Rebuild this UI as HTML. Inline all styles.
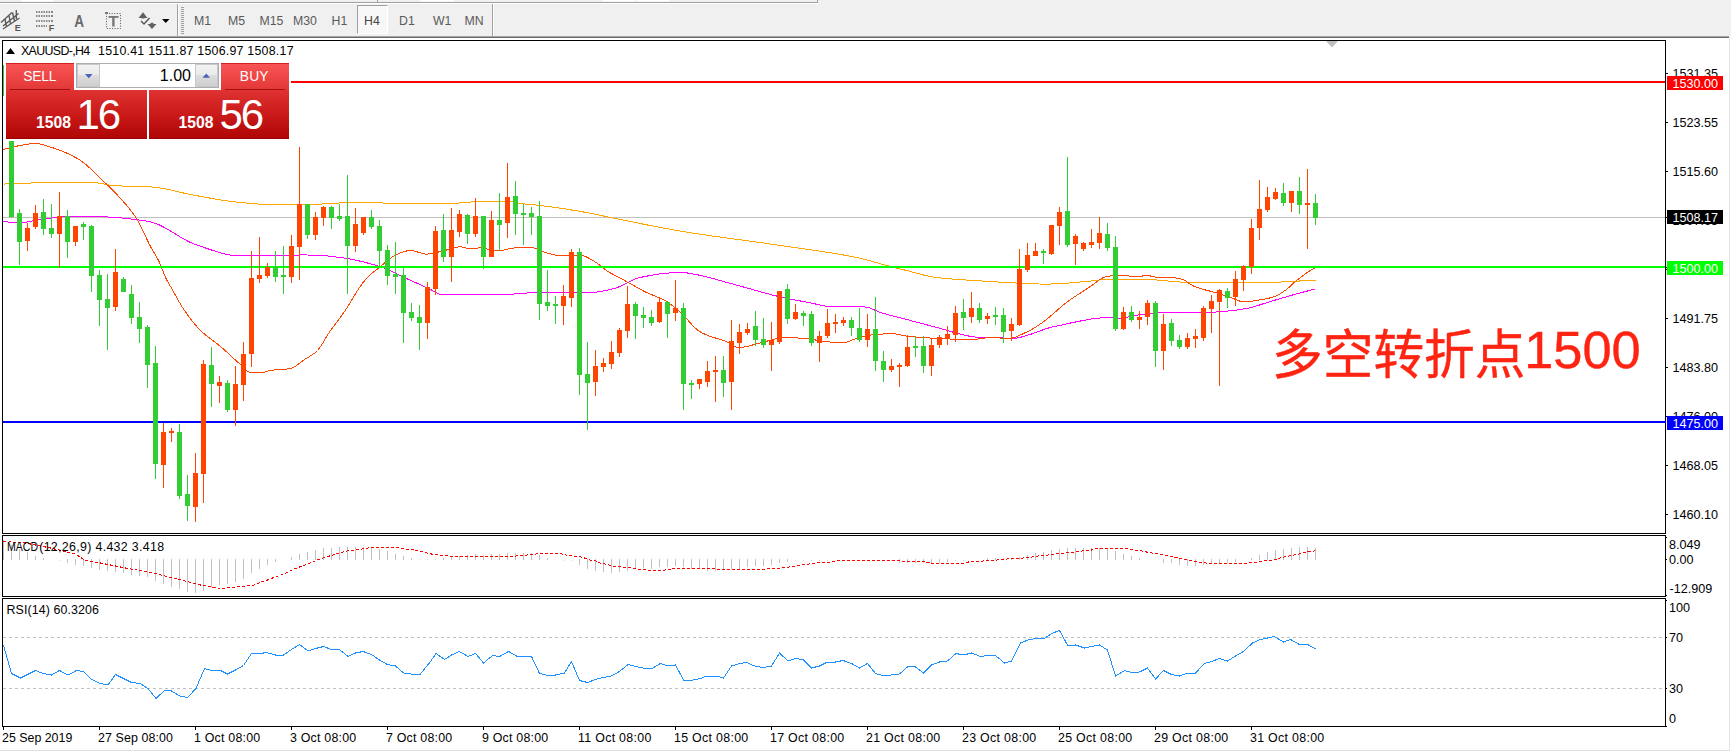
<!DOCTYPE html>
<html><head><meta charset="utf-8"><title>XAUUSD H4</title>
<style>
html,body{margin:0;padding:0;}
body{width:1731px;height:751px;overflow:hidden;background:#f0f0f0;position:relative;font-family:"Liberation Sans","Noto Sans CJK SC",sans-serif;}
.abs{position:absolute;}
.t{position:absolute;font-size:12.4px;line-height:16px;height:16px;white-space:nowrap;color:#000;}
.tag{position:absolute;left:1667px;width:56px;height:14px;font-size:12.6px;line-height:16px;overflow:hidden;text-indent:5.5px;white-space:nowrap;}
.tf{position:absolute;top:13px;font-size:12.3px;line-height:16px;color:#5a5a5a;white-space:nowrap;}
#paper{position:absolute;left:0;top:38px;width:1731px;height:713px;background:#fff;}
svg{position:absolute;left:0;top:0;}
.big{position:absolute;color:#fff;white-space:nowrap;}
</style></head><body>
<!-- top strip -->
<div class="abs" style="left:0;top:2px;width:818px;height:1px;background:#a0a0a0"></div>
<div class="abs" style="left:0;top:3px;width:818px;height:1px;background:#fff"></div>
<div class="abs" style="left:817px;top:0;width:1px;height:3px;background:#a0a0a0"></div>
<div class="abs" style="left:21px;top:0;width:32px;height:2px;background:linear-gradient(#fff 0,#fff 1px,#f6f6f6 1px,#f6f6f6 2px)"></div>
<div class="abs" style="left:420px;top:0;width:34px;height:2px;background:linear-gradient(#fff 0,#fff 1px,#f6f6f6 1px,#f6f6f6 2px)"></div>
<div class="abs" style="left:377px;top:0;width:1px;height:2px;background:#a0a0a0"></div>
<div class="abs" style="left:603px;top:0;width:32px;height:2px;background:linear-gradient(#fff 0,#fff 1px,#f6f6f6 1px,#f6f6f6 2px)"></div>
<div class="abs" style="left:637px;top:0;width:32px;height:2px;background:linear-gradient(#fff 0,#fff 1px,#f6f6f6 1px,#f6f6f6 2px)"></div>
<!-- toolbar bottom shadow -->
<div class="abs" style="left:0;top:36px;width:1729px;height:1px;background:#a6a6a6"></div>
<div class="abs" style="left:0;top:37px;width:1729px;height:1px;background:#696969"></div>
<div id="paper"></div>
<div class="abs" style="left:1729px;top:38px;width:1px;height:713px;background:#e3e3e3"></div>
<div class="abs" style="left:0;top:750px;width:1730px;height:1px;background:#e0e0e0"></div>
<!-- toolbar separators -->
<div class="abs" style="left:177px;top:4px;width:1px;height:32px;background:#a0a0a0"></div>
<div class="abs" style="left:178px;top:4px;width:1px;height:32px;background:#fff"></div>
<div class="abs" style="left:181px;top:7px;width:3px;height:28px;background:repeating-linear-gradient(to bottom,#a0a0a0 0,#a0a0a0 1px,transparent 1px,transparent 2px)"></div>
<div class="abs" style="left:492px;top:4px;width:1px;height:32px;background:#a0a0a0"></div>
<div class="abs" style="left:493px;top:4px;width:1px;height:32px;background:#fff"></div>
<!-- H4 pressed -->
<div class="abs" style="left:357px;top:5px;width:31px;height:29px;background:#f8f8f8;box-sizing:border-box;border-left:1px solid #a0a0a0;border-top:1px solid #a0a0a0;border-right:1px solid #fff;border-bottom:1px solid #fff"></div>
<div class="tf" style="left:194px">M1</div>
<div class="tf" style="left:228px">M5</div>
<div class="tf" style="left:259.5px">M15</div>
<div class="tf" style="left:293px">M30</div>
<div class="tf" style="left:331.5px">H1</div>
<div class="tf" style="left:364px;color:#444">H4</div>
<div class="tf" style="left:399px">D1</div>
<div class="tf" style="left:433px">W1</div>
<div class="tf" style="left:464.5px">MN</div>
<!-- toolbar icons -->
<svg width="200" height="40" viewBox="0 0 200 40">
 <g stroke="#5a5a5a" stroke-width="1.4" fill="none">
  <path d="M1 22.5 L12 12.5 M3 26 L18.5 13.5 M3 29 L19.5 18 M5 19 L6.5 27 M9 15.5 L10.5 24 M12.5 12.5 L14.5 21 M16.3 10 L16.3 19"/>
 </g>
 <text x="14.7" y="31.3" font-family="Liberation Sans, sans-serif" font-weight="bold" font-size="9" fill="#555">E</text>
 <g fill="#888">
  <rect x="36" y="11" width="17" height="2"/><rect x="36" y="15" width="17" height="2"/><rect x="36" y="20" width="17" height="2"/><rect x="36" y="25" width="11" height="2"/>
 </g>
 <g fill="#f0f0f0">
  <rect x="37.5" y="10" width="1" height="18"/><rect x="40" y="10" width="1" height="18"/><rect x="42.5" y="10" width="1" height="18"/><rect x="45" y="10" width="1" height="18"/><rect x="47.5" y="10" width="1" height="18"/><rect x="50" y="10" width="1" height="18"/>
 </g>
 <text x="48.7" y="31.3" font-family="Liberation Sans, sans-serif" font-weight="bold" font-size="9" fill="#555">F</text>
 <text x="74.2" y="26.7" font-family="Liberation Sans, sans-serif" font-weight="bold" font-size="16" fill="#6a6a6a" textLength="9.8" lengthAdjust="spacingAndGlyphs">A</text>
 <rect x="106.5" y="13.5" width="14" height="15" fill="none" stroke="#555" stroke-width="1" stroke-dasharray="1 1.6"/>
 <rect x="105" y="12" width="3" height="2" fill="#777"/>
 <rect x="108.5" y="16" width="10" height="1.8" fill="#777"/><rect x="112.2" y="16" width="2.4" height="10.5" fill="#777"/>
 <polygon points="138.5,18 143,12.3 147.5,18" fill="#606060"/><rect x="141.5" y="17" width="3" height="1.5" fill="#606060"/>
 <path d="M141 21 L144 24 L149.5 18" stroke="#555" stroke-width="1.4" fill="none"/>
 <polygon points="147.5,24 156.5,24 152,29" fill="#606060"/><rect x="150.5" y="22.8" width="3" height="1.5" fill="#606060"/>
 <polygon points="162,19 169.5,19 165.75,23" fill="#000"/>
</svg>
<!-- chart -->
<svg width="1731" height="751" viewBox="0 0 1731 751" shape-rendering="crispEdges">
<rect x="2" y="40" width="1664" height="1" fill="#000"/>
<rect x="2" y="533" width="1664" height="1" fill="#000"/>
<rect x="2" y="40" width="1" height="494" fill="#000"/>
<rect x="1665" y="40" width="1" height="494" fill="#000"/>
<rect x="2" y="535" width="1664" height="1" fill="#000"/>
<rect x="2" y="596" width="1664" height="1" fill="#000"/>
<rect x="2" y="535" width="1" height="62" fill="#000"/>
<rect x="1665" y="535" width="1" height="62" fill="#000"/>
<rect x="2" y="598" width="1664" height="1" fill="#000"/>
<rect x="2" y="726" width="1664" height="1" fill="#000"/>
<rect x="2" y="598" width="1" height="129" fill="#000"/>
<rect x="1665" y="598" width="1" height="129" fill="#000"/>
<rect x="3" y="217" width="1662" height="1" fill="#c0c0c0"/>
<polyline points="3.5,184.1 7.5,183.9 11.5,183.7 15.5,183.6 19.5,183.4 23.5,183.2 27.5,183.1 31.5,183.0 35.5,182.9 39.5,182.9 43.5,182.9 47.5,182.9 51.5,182.9 55.5,182.9 59.5,182.9 63.5,182.9 67.5,182.9 71.5,182.9 75.5,182.9 79.5,182.9 83.5,182.9 87.5,182.9 91.5,182.9 95.5,182.9 99.5,183.1 103.5,183.8 107.5,184.7 111.5,185.4 115.5,185.7 119.5,185.9 123.5,186.1 127.5,186.2 131.5,186.3 135.5,186.4 139.5,186.5 143.5,186.6 147.5,186.8 151.5,187.0 155.5,187.4 159.5,187.9 163.5,188.5 167.5,189.3 171.5,190.2 175.5,191.2 179.5,192.1 183.5,193.0 187.5,193.9 191.5,194.7 195.5,195.4 199.5,196.2 203.5,196.9 207.5,197.6 211.5,198.4 215.5,199.1 219.5,199.7 223.5,200.4 227.5,201.0 231.5,201.5 235.5,202.0 239.5,202.4 243.5,202.8 247.5,203.1 251.5,203.4 255.5,203.8 259.5,204.1 263.5,204.3 267.5,204.5 271.5,204.7 275.5,204.8 279.5,204.9 283.5,204.9 287.5,204.9 291.5,204.9 295.5,204.9 299.5,204.9 303.5,204.9 307.5,204.8 311.5,204.6 315.5,204.4 319.5,204.2 323.5,203.9 327.5,203.6 331.5,203.4 335.5,203.2 339.5,203.0 343.5,202.9 347.5,202.9 351.5,202.9 355.5,202.9 359.5,202.9 363.5,202.9 367.5,202.9 371.5,202.9 375.5,202.9 379.5,202.9 383.5,203.0 387.5,203.0 391.5,203.0 395.5,203.0 399.5,203.0 403.5,203.0 407.5,203.1 411.5,203.1 415.5,203.1 419.5,203.1 423.5,203.2 427.5,203.2 431.5,203.3 435.5,203.4 439.5,203.4 443.5,203.5 447.5,203.5 451.5,203.5 455.5,203.3 459.5,203.0 463.5,202.7 467.5,202.3 471.5,202.0 475.5,201.7 479.5,201.5 483.5,201.4 487.5,201.3 491.5,201.3 495.5,201.2 499.5,201.1 503.5,201.1 507.5,201.1 511.5,201.7 515.5,202.5 519.5,203.4 523.5,203.9 527.5,204.3 531.5,204.6 535.5,205.0 539.5,205.4 543.5,205.9 547.5,206.4 551.5,206.9 555.5,207.5 559.5,208.1 563.5,208.7 567.5,209.3 571.5,210.0 575.5,210.7 579.5,211.3 583.5,212.0 587.5,212.8 591.5,213.5 595.5,214.3 599.5,215.2 603.5,216.0 607.5,216.8 611.5,217.7 615.5,218.5 619.5,219.3 623.5,220.1 627.5,220.9 631.5,221.7 635.5,222.5 639.5,223.4 643.5,224.2 647.5,225.0 651.5,225.8 655.5,226.5 659.5,227.3 663.5,228.1 667.5,228.8 671.5,229.5 675.5,230.2 679.5,230.9 683.5,231.6 687.5,232.3 691.5,232.9 695.5,233.5 699.5,234.1 703.5,234.7 707.5,235.3 711.5,235.9 715.5,236.4 719.5,237.0 723.5,237.6 727.5,238.1 731.5,238.7 735.5,239.2 739.5,239.7 743.5,240.3 747.5,240.8 751.5,241.4 755.5,241.9 759.5,242.5 763.5,243.0 767.5,243.6 771.5,244.2 775.5,244.8 779.5,245.4 783.5,245.9 787.5,246.5 791.5,247.1 795.5,247.7 799.5,248.3 803.5,248.8 807.5,249.4 811.5,250.0 815.5,250.5 819.5,251.1 823.5,251.7 827.5,252.4 831.5,253.0 835.5,253.6 839.5,254.3 843.5,255.0 847.5,255.7 851.5,256.5 855.5,257.3 859.5,258.1 863.5,259.1 867.5,260.1 871.5,261.2 875.5,262.3 879.5,263.5 883.5,264.6 887.5,265.7 891.5,266.8 895.5,267.8 899.5,268.8 903.5,269.8 907.5,270.7 911.5,271.8 915.5,272.9 919.5,273.9 923.5,275.0 927.5,275.9 931.5,276.7 935.5,277.4 939.5,277.8 943.5,278.3 947.5,278.6 951.5,279.0 955.5,279.3 959.5,279.6 963.5,279.8 967.5,280.1 971.5,280.3 975.5,280.6 979.5,280.8 983.5,281.1 987.5,281.4 991.5,281.6 995.5,281.9 999.5,282.1 1003.5,282.4 1007.5,282.6 1011.5,282.8 1015.5,283.0 1019.5,283.2 1023.5,283.4 1027.5,283.5 1031.5,283.7 1035.5,283.9 1039.5,284.0 1043.5,284.1 1047.5,284.1 1051.5,284.0 1055.5,283.9 1059.5,283.7 1063.5,283.4 1067.5,283.1 1071.5,282.8 1075.5,282.4 1079.5,282.1 1083.5,281.7 1087.5,281.4 1091.5,281.0 1095.5,280.5 1099.5,280.0 1103.5,279.6 1107.5,279.5 1111.5,279.4 1115.5,279.3 1119.5,279.2 1123.5,279.2 1127.5,279.2 1131.5,279.1 1135.5,279.1 1139.5,279.1 1143.5,279.2 1147.5,279.4 1151.5,279.6 1155.5,279.9 1159.5,280.2 1163.5,280.6 1167.5,281.0 1171.5,281.4 1175.5,281.7 1179.5,282.0 1183.5,282.3 1187.5,282.4 1191.5,282.5 1195.5,282.6 1199.5,282.6 1203.5,282.7 1207.5,282.7 1211.5,282.8 1215.5,282.8 1219.5,282.8 1223.5,282.9 1227.5,282.9 1231.5,282.9 1235.5,282.9 1239.5,282.9 1243.5,282.9 1247.5,282.9 1251.5,282.9 1255.5,282.9 1259.5,282.9 1263.5,282.9 1267.5,282.9 1271.5,282.9 1275.5,282.6 1279.5,282.2 1283.5,281.7 1287.5,281.2 1291.5,281.1 1295.5,281.0 1299.5,281.0 1303.5,280.9 1307.5,280.9 1311.5,280.9 1315.5,280.9" fill="none" stroke="#ffa500" stroke-width="1" />
<polyline points="3.5,221.5 7.5,222.0 11.5,222.3 15.5,222.5 19.5,222.5 23.5,222.4 27.5,221.9 31.5,221.1 35.5,220.3 39.5,219.6 43.5,219.1 47.5,218.5 51.5,218.0 55.5,217.4 59.5,216.9 63.5,216.5 67.5,216.2 71.5,216.1 75.5,216.1 79.5,216.1 83.5,216.2 87.5,216.3 91.5,216.4 95.5,216.5 99.5,216.6 103.5,216.8 107.5,217.0 111.5,217.2 115.5,217.5 119.5,217.8 123.5,218.2 127.5,218.6 131.5,219.1 135.5,219.6 139.5,220.1 143.5,220.7 147.5,221.3 151.5,222.1 155.5,223.4 159.5,225.0 163.5,227.0 167.5,229.2 171.5,231.6 175.5,234.0 179.5,236.5 183.5,238.8 187.5,241.0 191.5,242.9 195.5,244.6 199.5,245.9 203.5,247.3 207.5,248.7 211.5,250.0 215.5,251.3 219.5,252.5 223.5,253.6 227.5,254.5 231.5,255.2 235.5,255.7 239.5,255.9 243.5,255.9 247.5,255.9 251.5,255.9 255.5,255.9 259.5,255.9 263.5,255.9 267.5,255.9 271.5,255.9 275.5,255.9 279.5,255.9 283.5,255.9 287.5,255.9 291.5,255.9 295.5,255.4 299.5,254.9 303.5,254.9 307.5,255.0 311.5,255.1 315.5,255.3 319.5,255.5 323.5,255.7 327.5,256.0 331.5,256.4 335.5,256.9 339.5,257.4 343.5,257.9 347.5,258.6 351.5,259.3 355.5,260.1 359.5,261.0 363.5,261.9 367.5,263.0 371.5,264.1 375.5,265.2 379.5,266.4 383.5,267.8 387.5,269.5 391.5,271.3 395.5,273.2 399.5,275.2 403.5,277.1 407.5,279.0 411.5,280.8 415.5,282.6 419.5,284.4 423.5,286.3 427.5,288.1 431.5,290.0 435.5,292.3 439.5,294.1 443.5,294.9 447.5,294.9 451.5,294.9 455.5,294.9 459.5,294.9 463.5,294.9 467.5,294.9 471.5,294.9 475.5,294.9 479.5,294.9 483.5,294.9 487.5,294.9 491.5,294.9 495.5,294.9 499.5,294.9 503.5,294.8 507.5,294.6 511.5,294.3 515.5,293.9 519.5,293.5 523.5,293.2 527.5,293.0 531.5,292.9 535.5,292.9 539.5,292.9 543.5,292.9 547.5,292.9 551.5,292.9 555.5,292.9 559.5,292.9 563.5,292.9 567.5,292.9 571.5,292.8 575.5,292.8 579.5,292.7 583.5,292.7 587.5,292.6 591.5,292.5 595.5,292.2 599.5,291.7 603.5,291.0 607.5,290.2 611.5,289.2 615.5,288.2 619.5,286.6 623.5,284.6 627.5,282.6 631.5,280.6 635.5,278.8 639.5,277.7 643.5,276.8 647.5,276.0 651.5,275.2 655.5,274.6 659.5,274.0 663.5,273.6 667.5,273.2 671.5,272.8 675.5,272.5 679.5,272.3 683.5,272.5 687.5,273.0 691.5,273.7 695.5,274.4 699.5,275.2 703.5,276.1 707.5,277.1 711.5,278.1 715.5,279.2 719.5,280.3 723.5,281.5 727.5,282.6 731.5,283.7 735.5,284.8 739.5,285.8 743.5,287.0 747.5,288.1 751.5,289.2 755.5,290.4 759.5,291.5 763.5,292.7 767.5,293.7 771.5,294.8 775.5,295.8 779.5,296.7 783.5,297.6 787.5,298.5 791.5,299.3 795.5,300.1 799.5,300.8 803.5,301.6 807.5,302.3 811.5,303.1 815.5,304.0 819.5,304.9 823.5,305.7 827.5,306.4 831.5,306.8 835.5,306.9 839.5,306.9 843.5,306.9 847.5,306.9 851.5,306.9 855.5,306.9 859.5,306.9 863.5,306.9 867.5,307.3 871.5,308.6 875.5,310.5 879.5,312.2 883.5,313.4 887.5,314.5 891.5,315.6 895.5,316.7 899.5,317.7 903.5,318.7 907.5,319.7 911.5,320.8 915.5,321.8 919.5,322.9 923.5,323.9 927.5,325.0 931.5,326.1 935.5,327.1 939.5,328.2 943.5,329.3 947.5,330.5 951.5,331.7 955.5,332.9 959.5,333.9 963.5,334.8 967.5,335.8 971.5,336.6 975.5,337.1 979.5,337.1 983.5,337.1 987.5,337.1 991.5,337.1 995.5,337.2 999.5,337.6 1003.5,338.0 1007.5,338.4 1011.5,338.5 1015.5,338.2 1019.5,337.5 1023.5,336.5 1027.5,335.3 1031.5,334.0 1035.5,332.5 1039.5,331.1 1043.5,329.6 1047.5,328.3 1051.5,327.2 1055.5,326.3 1059.5,325.5 1063.5,324.6 1067.5,323.7 1071.5,322.8 1075.5,322.0 1079.5,321.2 1083.5,320.4 1087.5,319.7 1091.5,319.0 1095.5,318.5 1099.5,318.1 1103.5,317.7 1107.5,317.5 1111.5,317.6 1115.5,319.0 1119.5,318.9 1123.5,318.1 1127.5,317.1 1131.5,316.1 1135.5,315.4 1139.5,314.8 1143.5,314.3 1147.5,313.8 1151.5,313.3 1155.5,313.0 1159.5,312.9 1163.5,312.9 1167.5,312.9 1171.5,312.9 1175.5,312.9 1179.5,312.9 1183.5,312.9 1187.5,312.9 1191.5,312.9 1195.5,312.9 1199.5,312.9 1203.5,312.8 1207.5,312.6 1211.5,312.4 1215.5,312.1 1219.5,311.7 1223.5,311.4 1227.5,311.1 1231.5,310.6 1235.5,310.2 1239.5,309.6 1243.5,309.0 1247.5,308.3 1251.5,307.4 1255.5,306.3 1259.5,305.0 1263.5,303.7 1267.5,302.4 1271.5,301.2 1275.5,300.0 1279.5,298.8 1283.5,297.7 1287.5,296.5 1291.5,295.3 1295.5,294.2 1299.5,293.1 1303.5,292.0 1307.5,291.0 1311.5,289.9 1315.5,288.9" fill="none" stroke="#ff00ff" stroke-width="1" />
<polyline points="3.5,149.5 5.5,148.9 7.5,148.4 9.5,147.8 11.5,147.3 13.5,146.9 15.5,146.4 17.5,146.0 19.5,145.7 21.5,145.3 23.5,145.0 25.5,144.7 27.5,144.3 29.5,144.0 31.5,143.8 33.5,143.6 35.5,143.5 37.5,143.5 39.5,143.8 41.5,144.3 43.5,144.9 45.5,145.5 47.5,146.2 49.5,146.8 51.5,147.4 53.5,148.0 55.5,148.7 57.5,149.4 59.5,150.1 61.5,150.9 63.5,151.7 65.5,152.6 67.5,153.5 69.5,154.4 71.5,155.4 73.5,156.4 75.5,157.5 77.5,158.6 79.5,159.9 81.5,161.2 83.5,162.6 85.5,164.2 87.5,166.0 89.5,167.8 91.5,169.7 93.5,171.7 95.5,173.6 97.5,175.6 99.5,177.5 101.5,179.4 103.5,181.3 105.5,183.2 107.5,185.2 109.5,187.1 111.5,189.1 113.5,191.1 115.5,193.1 117.5,195.2 119.5,197.4 121.5,199.6 123.5,201.8 125.5,204.1 127.5,206.4 129.5,208.9 131.5,211.4 133.5,214.1 135.5,217.0 137.5,220.1 139.5,223.7 141.5,227.7 143.5,232.0 145.5,236.3 147.5,240.5 149.5,244.6 151.5,248.3 153.5,251.7 155.5,255.0 157.5,258.6 159.5,262.6 161.5,267.5 163.5,272.6 165.5,277.4 167.5,281.4 169.5,284.8 171.5,288.2 173.5,291.8 175.5,295.4 177.5,299.0 179.5,302.5 181.5,305.9 183.5,309.0 185.5,311.9 187.5,314.8 189.5,317.5 191.5,320.2 193.5,322.7 195.5,325.1 197.5,327.4 199.5,329.5 201.5,331.5 203.5,333.3 205.5,335.0 207.5,336.6 209.5,338.1 211.5,339.6 213.5,341.1 215.5,342.5 217.5,344.1 219.5,345.7 221.5,347.4 223.5,349.1 225.5,350.9 227.5,352.7 229.5,354.6 231.5,356.4 233.5,358.3 235.5,360.1 237.5,361.9 239.5,363.7 241.5,365.4 243.5,367.4 245.5,369.5 247.5,371.2 249.5,372.3 251.5,372.6 253.5,372.7 255.5,372.8 257.5,372.9 259.5,372.9 261.5,372.8 263.5,372.5 265.5,371.9 267.5,371.2 269.5,370.7 271.5,370.4 273.5,370.1 275.5,369.9 277.5,369.8 279.5,369.6 281.5,369.5 283.5,369.4 285.5,369.2 287.5,369.0 289.5,368.7 291.5,368.3 293.5,367.4 295.5,366.3 297.5,364.8 299.5,363.3 301.5,361.7 303.5,360.2 305.5,358.9 307.5,357.7 309.5,356.5 311.5,355.3 313.5,353.9 315.5,352.4 317.5,350.5 319.5,348.0 321.5,345.1 323.5,341.9 325.5,338.5 327.5,335.1 329.5,332.0 331.5,329.1 333.5,326.4 335.5,323.8 337.5,321.1 339.5,318.5 341.5,315.7 343.5,312.9 345.5,310.0 347.5,306.9 349.5,303.7 351.5,300.3 353.5,296.9 355.5,293.6 357.5,290.5 359.5,287.6 361.5,284.7 363.5,282.0 365.5,279.6 367.5,277.5 369.5,275.5 371.5,273.7 373.5,272.0 375.5,270.4 377.5,268.9 379.5,267.3 381.5,265.7 383.5,264.0 385.5,262.3 387.5,260.6 389.5,258.9 391.5,257.4 393.5,256.1 395.5,254.9 397.5,254.1 399.5,253.3 401.5,252.5 403.5,251.8 405.5,251.2 407.5,250.8 409.5,250.5 411.5,250.5 413.5,250.8 415.5,251.3 417.5,252.0 419.5,252.6 421.5,253.3 423.5,253.8 425.5,254.1 427.5,254.1 429.5,253.9 431.5,253.6 433.5,253.2 435.5,252.8 437.5,252.3 439.5,251.7 441.5,251.2 443.5,250.7 445.5,250.3 447.5,249.7 449.5,249.2 451.5,248.6 453.5,248.0 455.5,247.5 457.5,247.1 459.5,246.9 461.5,247.0 463.5,247.3 465.5,247.9 467.5,248.5 469.5,248.8 471.5,248.9 473.5,248.7 475.5,248.4 477.5,248.1 479.5,247.9 481.5,247.9 483.5,248.2 485.5,248.6 487.5,249.1 489.5,249.7 491.5,250.2 493.5,250.6 495.5,250.9 497.5,250.9 499.5,250.7 501.5,250.4 503.5,250.1 505.5,249.6 507.5,249.2 509.5,248.7 511.5,248.4 513.5,248.1 515.5,247.9 517.5,247.9 519.5,247.9 521.5,247.9 523.5,247.9 525.5,247.9 527.5,247.9 529.5,247.9 531.5,247.9 533.5,247.9 535.5,248.3 537.5,249.0 539.5,249.8 541.5,250.7 543.5,251.7 545.5,252.5 547.5,253.2 549.5,253.7 551.5,254.2 553.5,254.7 555.5,255.1 557.5,255.5 559.5,255.7 561.5,255.9 563.5,255.9 565.5,255.9 567.5,255.8 569.5,255.8 571.5,255.7 573.5,255.6 575.5,255.6 577.5,255.5 579.5,255.5 581.5,255.6 583.5,255.9 585.5,256.6 587.5,257.5 589.5,258.6 591.5,259.8 593.5,260.9 595.5,262.1 597.5,263.5 599.5,265.0 601.5,266.7 603.5,268.3 605.5,269.8 607.5,271.1 609.5,272.4 611.5,273.5 613.5,274.6 615.5,275.7 617.5,276.7 619.5,277.8 621.5,278.8 623.5,279.9 625.5,281.0 627.5,282.1 629.5,283.2 631.5,284.3 633.5,285.5 635.5,286.6 637.5,287.7 639.5,288.9 641.5,289.9 643.5,291.0 645.5,292.0 647.5,292.9 649.5,293.8 651.5,294.6 653.5,295.4 655.5,296.3 657.5,297.1 659.5,298.0 661.5,298.9 663.5,299.9 665.5,300.9 667.5,302.1 669.5,303.4 671.5,304.9 673.5,306.5 675.5,308.2 677.5,309.9 679.5,311.6 681.5,313.4 683.5,315.4 685.5,317.5 687.5,319.7 689.5,322.0 691.5,324.2 693.5,326.3 695.5,328.3 697.5,330.0 699.5,331.5 701.5,332.6 703.5,333.6 705.5,334.5 707.5,335.3 709.5,336.1 711.5,336.7 713.5,337.4 715.5,338.0 717.5,338.6 719.5,339.2 721.5,339.9 723.5,340.6 725.5,341.3 727.5,342.1 729.5,343.0 731.5,344.2 733.5,345.5 735.5,346.7 737.5,347.4 739.5,347.5 741.5,347.3 743.5,347.1 745.5,346.7 747.5,346.3 749.5,345.8 751.5,345.3 753.5,344.7 755.5,344.2 757.5,343.6 759.5,343.1 761.5,342.7 763.5,342.2 765.5,341.6 767.5,341.0 769.5,340.4 771.5,339.8 773.5,339.3 775.5,338.8 777.5,338.3 779.5,337.9 781.5,337.7 783.5,337.5 785.5,337.5 787.5,337.5 789.5,337.6 791.5,337.7 793.5,337.8 795.5,337.9 797.5,338.0 799.5,338.1 801.5,338.3 803.5,338.5 805.5,338.6 807.5,338.8 809.5,339.0 811.5,339.3 813.5,339.6 815.5,340.0 817.5,340.4 819.5,340.7 821.5,341.1 823.5,341.4 825.5,341.6 827.5,341.8 829.5,342.0 831.5,342.2 833.5,342.4 835.5,342.6 837.5,342.7 839.5,342.8 841.5,342.9 843.5,342.9 845.5,342.5 847.5,341.9 849.5,341.2 851.5,340.3 853.5,339.5 855.5,338.8 857.5,338.2 859.5,337.7 861.5,337.1 863.5,336.6 865.5,336.1 867.5,335.7 869.5,335.3 871.5,335.0 873.5,334.8 875.5,334.6 877.5,334.4 879.5,334.3 881.5,334.1 883.5,334.0 885.5,333.9 887.5,333.8 889.5,333.7 891.5,333.7 893.5,333.7 895.5,333.9 897.5,334.3 899.5,334.7 901.5,335.2 903.5,335.6 905.5,336.0 907.5,336.2 909.5,336.4 911.5,336.6 913.5,336.8 915.5,337.0 917.5,337.2 919.5,337.3 921.5,337.5 923.5,337.6 925.5,337.8 927.5,337.9 929.5,338.0 931.5,338.2 933.5,338.3 935.5,338.4 937.5,338.5 939.5,338.6 941.5,338.7 943.5,338.8 945.5,338.9 947.5,338.9 949.5,339.0 951.5,339.1 953.5,339.1 955.5,339.2 957.5,339.3 959.5,339.3 961.5,339.4 963.5,339.4 965.5,339.4 967.5,339.5 969.5,339.5 971.5,339.5 973.5,339.5 975.5,339.4 977.5,339.1 979.5,338.8 981.5,338.5 983.5,338.2 985.5,337.9 987.5,337.6 989.5,337.5 991.5,337.5 993.5,337.6 995.5,337.7 997.5,337.8 999.5,338.0 1001.5,338.2 1003.5,338.3 1005.5,338.4 1007.5,338.5 1009.5,338.5 1011.5,338.2 1013.5,337.7 1015.5,337.1 1017.5,336.3 1019.5,335.4 1021.5,334.5 1023.5,333.5 1025.5,332.6 1027.5,331.6 1029.5,330.6 1031.5,329.6 1033.5,328.4 1035.5,327.2 1037.5,325.9 1039.5,324.5 1041.5,323.2 1043.5,321.8 1045.5,320.3 1047.5,318.7 1049.5,317.0 1051.5,315.3 1053.5,313.5 1055.5,311.8 1057.5,310.0 1059.5,308.2 1061.5,306.5 1063.5,304.8 1065.5,303.3 1067.5,301.8 1069.5,300.3 1071.5,298.9 1073.5,297.5 1075.5,296.2 1077.5,294.9 1079.5,293.6 1081.5,292.3 1083.5,291.0 1085.5,289.7 1087.5,288.4 1089.5,287.1 1091.5,285.8 1093.5,284.4 1095.5,282.8 1097.5,281.3 1099.5,279.8 1101.5,278.5 1103.5,277.4 1105.5,276.7 1107.5,276.4 1109.5,276.1 1111.5,275.9 1113.5,275.7 1115.5,275.6 1117.5,275.5 1119.5,275.5 1121.5,275.6 1123.5,275.7 1125.5,275.8 1127.5,275.9 1129.5,276.1 1131.5,276.2 1133.5,276.3 1135.5,276.4 1137.5,276.5 1139.5,276.5 1141.5,276.2 1143.5,275.8 1145.5,275.5 1147.5,275.5 1149.5,275.8 1151.5,276.2 1153.5,276.6 1155.5,277.1 1157.5,277.4 1159.5,277.6 1161.5,277.6 1163.5,277.7 1165.5,277.7 1167.5,277.8 1169.5,277.8 1171.5,277.9 1173.5,277.9 1175.5,278.0 1177.5,278.2 1179.5,278.6 1181.5,279.2 1183.5,279.9 1185.5,280.9 1187.5,282.2 1189.5,283.6 1191.5,284.9 1193.5,286.0 1195.5,286.9 1197.5,287.6 1199.5,288.3 1201.5,288.9 1203.5,289.5 1205.5,290.0 1207.5,290.5 1209.5,291.0 1211.5,291.5 1213.5,292.1 1215.5,292.6 1217.5,293.2 1219.5,293.8 1221.5,294.5 1223.5,295.1 1225.5,295.8 1227.5,296.5 1229.5,297.2 1231.5,297.8 1233.5,298.6 1235.5,299.5 1237.5,300.3 1239.5,301.0 1241.5,301.5 1243.5,301.9 1245.5,301.9 1247.5,301.8 1249.5,301.6 1251.5,301.3 1253.5,301.0 1255.5,300.7 1257.5,300.3 1259.5,300.0 1261.5,299.7 1263.5,299.3 1265.5,298.9 1267.5,298.5 1269.5,298.0 1271.5,297.4 1273.5,296.8 1275.5,296.1 1277.5,295.2 1279.5,294.2 1281.5,292.9 1283.5,291.6 1285.5,290.2 1287.5,288.7 1289.5,287.0 1291.5,285.1 1293.5,283.2 1295.5,281.3 1297.5,279.7 1299.5,278.2 1301.5,276.7 1303.5,275.2 1305.5,273.8 1307.5,272.4 1309.5,271.1 1311.5,269.8 1313.5,268.6 1315.5,267.5" fill="none" stroke="#ff4500" stroke-width="1" />
<rect x="291" y="81" width="1374" height="2" fill="#ff0000"/>
<rect x="3" y="266" width="1662" height="2" fill="#00ff00"/>
<rect x="3" y="421" width="1663" height="2" fill="#0000ff"/>
<rect x="3" y="65" width="1" height="31" fill="#32cd32"/>
<rect x="11" y="141" width="1" height="77" fill="#32cd32"/>
<rect x="9" y="141" width="5" height="76" fill="#32cd32"/>
<rect x="19" y="209" width="1" height="56" fill="#32cd32"/>
<rect x="17" y="213" width="5" height="29" fill="#32cd32"/>
<rect x="27" y="223" width="1" height="28" fill="#ff4500"/>
<rect x="25" y="228" width="5" height="13" fill="#ff4500"/>
<rect x="35" y="205" width="1" height="24" fill="#ff4500"/>
<rect x="33" y="213" width="5" height="14" fill="#ff4500"/>
<rect x="43" y="199" width="1" height="36" fill="#32cd32"/>
<rect x="41" y="212" width="5" height="17" fill="#32cd32"/>
<rect x="51" y="204" width="1" height="34" fill="#32cd32"/>
<rect x="49" y="228" width="5" height="6" fill="#32cd32"/>
<rect x="59" y="192" width="1" height="76" fill="#ff4500"/>
<rect x="57" y="216" width="5" height="18" fill="#ff4500"/>
<rect x="67" y="210" width="1" height="48" fill="#32cd32"/>
<rect x="65" y="216" width="5" height="26" fill="#32cd32"/>
<rect x="75" y="226" width="1" height="20" fill="#ff4500"/>
<rect x="73" y="226" width="5" height="16" fill="#ff4500"/>
<rect x="83" y="222" width="1" height="18" fill="#32cd32"/>
<rect x="81" y="224" width="5" height="3" fill="#32cd32"/>
<rect x="91" y="225" width="1" height="67" fill="#32cd32"/>
<rect x="89" y="226" width="5" height="50" fill="#32cd32"/>
<rect x="99" y="270" width="1" height="56" fill="#32cd32"/>
<rect x="97" y="275" width="5" height="25" fill="#32cd32"/>
<rect x="107" y="274" width="1" height="76" fill="#32cd32"/>
<rect x="105" y="299" width="5" height="9" fill="#32cd32"/>
<rect x="115" y="249" width="1" height="62" fill="#ff4500"/>
<rect x="113" y="272" width="5" height="35" fill="#ff4500"/>
<rect x="123" y="277" width="1" height="15" fill="#32cd32"/>
<rect x="121" y="279" width="5" height="13" fill="#32cd32"/>
<rect x="131" y="285" width="1" height="39" fill="#32cd32"/>
<rect x="129" y="294" width="5" height="24" fill="#32cd32"/>
<rect x="139" y="302" width="1" height="41" fill="#32cd32"/>
<rect x="137" y="317" width="5" height="12" fill="#32cd32"/>
<rect x="147" y="325" width="1" height="63" fill="#32cd32"/>
<rect x="145" y="327" width="5" height="38" fill="#32cd32"/>
<rect x="155" y="346" width="1" height="133" fill="#32cd32"/>
<rect x="153" y="363" width="5" height="101" fill="#32cd32"/>
<rect x="163" y="423" width="1" height="65" fill="#ff4500"/>
<rect x="161" y="432" width="5" height="33" fill="#ff4500"/>
<rect x="171" y="428" width="1" height="14" fill="#ff4500"/>
<rect x="169" y="431" width="5" height="2" fill="#ff4500"/>
<rect x="179" y="424" width="1" height="75" fill="#32cd32"/>
<rect x="177" y="432" width="5" height="64" fill="#32cd32"/>
<rect x="187" y="475" width="1" height="46" fill="#32cd32"/>
<rect x="185" y="494" width="5" height="12" fill="#32cd32"/>
<rect x="195" y="453" width="1" height="69" fill="#ff4500"/>
<rect x="193" y="473" width="5" height="34" fill="#ff4500"/>
<rect x="203" y="360" width="1" height="143" fill="#ff4500"/>
<rect x="201" y="364" width="5" height="110" fill="#ff4500"/>
<rect x="211" y="347" width="1" height="60" fill="#32cd32"/>
<rect x="209" y="365" width="5" height="19" fill="#32cd32"/>
<rect x="219" y="376" width="1" height="27" fill="#ff4500"/>
<rect x="217" y="382" width="5" height="4" fill="#ff4500"/>
<rect x="227" y="380" width="1" height="32" fill="#32cd32"/>
<rect x="225" y="383" width="5" height="27" fill="#32cd32"/>
<rect x="235" y="366" width="1" height="60" fill="#ff4500"/>
<rect x="233" y="384" width="5" height="26" fill="#ff4500"/>
<rect x="243" y="342" width="1" height="59" fill="#ff4500"/>
<rect x="241" y="354" width="5" height="31" fill="#ff4500"/>
<rect x="251" y="251" width="1" height="116" fill="#ff4500"/>
<rect x="249" y="278" width="5" height="76" fill="#ff4500"/>
<rect x="259" y="237" width="1" height="46" fill="#ff4500"/>
<rect x="257" y="275" width="5" height="4" fill="#ff4500"/>
<rect x="267" y="263" width="1" height="15" fill="#ff4500"/>
<rect x="265" y="267" width="5" height="9" fill="#ff4500"/>
<rect x="275" y="251" width="1" height="31" fill="#32cd32"/>
<rect x="273" y="267" width="5" height="10" fill="#32cd32"/>
<rect x="283" y="246" width="1" height="48" fill="#32cd32"/>
<rect x="281" y="275" width="5" height="2" fill="#32cd32"/>
<rect x="291" y="235" width="1" height="48" fill="#ff4500"/>
<rect x="289" y="246" width="5" height="31" fill="#ff4500"/>
<rect x="299" y="147" width="1" height="133" fill="#ff4500"/>
<rect x="297" y="204" width="5" height="43" fill="#ff4500"/>
<rect x="307" y="204" width="1" height="35" fill="#32cd32"/>
<rect x="305" y="204" width="5" height="31" fill="#32cd32"/>
<rect x="315" y="212" width="1" height="28" fill="#ff4500"/>
<rect x="313" y="217" width="5" height="18" fill="#ff4500"/>
<rect x="323" y="206" width="1" height="20" fill="#ff4500"/>
<rect x="321" y="207" width="5" height="11" fill="#ff4500"/>
<rect x="331" y="206" width="1" height="23" fill="#32cd32"/>
<rect x="329" y="207" width="5" height="11" fill="#32cd32"/>
<rect x="339" y="204" width="1" height="17" fill="#32cd32"/>
<rect x="337" y="216" width="5" height="3" fill="#32cd32"/>
<rect x="347" y="175" width="1" height="119" fill="#32cd32"/>
<rect x="345" y="216" width="5" height="30" fill="#32cd32"/>
<rect x="355" y="208" width="1" height="44" fill="#ff4500"/>
<rect x="353" y="224" width="5" height="22" fill="#ff4500"/>
<rect x="363" y="217" width="1" height="18" fill="#ff4500"/>
<rect x="361" y="217" width="5" height="16" fill="#ff4500"/>
<rect x="371" y="210" width="1" height="19" fill="#32cd32"/>
<rect x="369" y="217" width="5" height="10" fill="#32cd32"/>
<rect x="379" y="220" width="1" height="47" fill="#32cd32"/>
<rect x="377" y="226" width="5" height="25" fill="#32cd32"/>
<rect x="387" y="245" width="1" height="40" fill="#32cd32"/>
<rect x="385" y="250" width="5" height="26" fill="#32cd32"/>
<rect x="395" y="242" width="1" height="52" fill="#32cd32"/>
<rect x="393" y="274" width="5" height="3" fill="#32cd32"/>
<rect x="403" y="267" width="1" height="76" fill="#32cd32"/>
<rect x="401" y="275" width="5" height="38" fill="#32cd32"/>
<rect x="411" y="303" width="1" height="18" fill="#32cd32"/>
<rect x="409" y="312" width="5" height="6" fill="#32cd32"/>
<rect x="419" y="305" width="1" height="45" fill="#32cd32"/>
<rect x="417" y="317" width="5" height="6" fill="#32cd32"/>
<rect x="427" y="282" width="1" height="57" fill="#ff4500"/>
<rect x="425" y="287" width="5" height="36" fill="#ff4500"/>
<rect x="435" y="226" width="1" height="69" fill="#ff4500"/>
<rect x="433" y="231" width="5" height="58" fill="#ff4500"/>
<rect x="443" y="214" width="1" height="48" fill="#32cd32"/>
<rect x="441" y="230" width="5" height="27" fill="#32cd32"/>
<rect x="451" y="208" width="1" height="74" fill="#ff4500"/>
<rect x="449" y="230" width="5" height="27" fill="#ff4500"/>
<rect x="459" y="210" width="1" height="27" fill="#ff4500"/>
<rect x="457" y="214" width="5" height="18" fill="#ff4500"/>
<rect x="467" y="214" width="1" height="30" fill="#32cd32"/>
<rect x="465" y="215" width="5" height="19" fill="#32cd32"/>
<rect x="475" y="198" width="1" height="39" fill="#ff4500"/>
<rect x="473" y="216" width="5" height="18" fill="#ff4500"/>
<rect x="483" y="216" width="1" height="53" fill="#32cd32"/>
<rect x="481" y="216" width="5" height="41" fill="#32cd32"/>
<rect x="491" y="211" width="1" height="46" fill="#ff4500"/>
<rect x="489" y="220" width="5" height="37" fill="#ff4500"/>
<rect x="499" y="193" width="1" height="58" fill="#32cd32"/>
<rect x="497" y="220" width="5" height="5" fill="#32cd32"/>
<rect x="507" y="163" width="1" height="75" fill="#ff4500"/>
<rect x="505" y="197" width="5" height="26" fill="#ff4500"/>
<rect x="515" y="181" width="1" height="54" fill="#32cd32"/>
<rect x="513" y="196" width="5" height="18" fill="#32cd32"/>
<rect x="523" y="204" width="1" height="41" fill="#32cd32"/>
<rect x="521" y="213" width="5" height="2" fill="#32cd32"/>
<rect x="531" y="207" width="1" height="28" fill="#32cd32"/>
<rect x="529" y="213" width="5" height="4" fill="#32cd32"/>
<rect x="539" y="201" width="1" height="119" fill="#32cd32"/>
<rect x="537" y="216" width="5" height="88" fill="#32cd32"/>
<rect x="547" y="270" width="1" height="41" fill="#32cd32"/>
<rect x="545" y="302" width="5" height="4" fill="#32cd32"/>
<rect x="555" y="296" width="1" height="28" fill="#32cd32"/>
<rect x="553" y="304" width="5" height="2" fill="#32cd32"/>
<rect x="563" y="285" width="1" height="40" fill="#ff4500"/>
<rect x="561" y="296" width="5" height="10" fill="#ff4500"/>
<rect x="571" y="249" width="1" height="58" fill="#ff4500"/>
<rect x="569" y="252" width="5" height="46" fill="#ff4500"/>
<rect x="579" y="248" width="1" height="147" fill="#32cd32"/>
<rect x="577" y="252" width="5" height="123" fill="#32cd32"/>
<rect x="587" y="342" width="1" height="88" fill="#32cd32"/>
<rect x="585" y="374" width="5" height="9" fill="#32cd32"/>
<rect x="595" y="350" width="1" height="46" fill="#ff4500"/>
<rect x="593" y="366" width="5" height="16" fill="#ff4500"/>
<rect x="603" y="358" width="1" height="14" fill="#ff4500"/>
<rect x="601" y="363" width="5" height="4" fill="#ff4500"/>
<rect x="611" y="341" width="1" height="28" fill="#ff4500"/>
<rect x="609" y="352" width="5" height="12" fill="#ff4500"/>
<rect x="619" y="328" width="1" height="29" fill="#ff4500"/>
<rect x="617" y="330" width="5" height="23" fill="#ff4500"/>
<rect x="627" y="286" width="1" height="52" fill="#ff4500"/>
<rect x="625" y="304" width="5" height="27" fill="#ff4500"/>
<rect x="635" y="302" width="1" height="37" fill="#32cd32"/>
<rect x="633" y="304" width="5" height="12" fill="#32cd32"/>
<rect x="643" y="307" width="1" height="21" fill="#32cd32"/>
<rect x="641" y="315" width="5" height="3" fill="#32cd32"/>
<rect x="651" y="310" width="1" height="16" fill="#32cd32"/>
<rect x="649" y="317" width="5" height="6" fill="#32cd32"/>
<rect x="659" y="297" width="1" height="26" fill="#ff4500"/>
<rect x="657" y="302" width="5" height="20" fill="#ff4500"/>
<rect x="667" y="301" width="1" height="37" fill="#32cd32"/>
<rect x="665" y="302" width="5" height="12" fill="#32cd32"/>
<rect x="675" y="280" width="1" height="41" fill="#ff4500"/>
<rect x="673" y="308" width="5" height="5" fill="#ff4500"/>
<rect x="683" y="303" width="1" height="107" fill="#32cd32"/>
<rect x="681" y="308" width="5" height="76" fill="#32cd32"/>
<rect x="691" y="380" width="1" height="19" fill="#32cd32"/>
<rect x="689" y="383" width="5" height="2" fill="#32cd32"/>
<rect x="699" y="379" width="1" height="10" fill="#ff4500"/>
<rect x="697" y="379" width="5" height="5" fill="#ff4500"/>
<rect x="707" y="361" width="1" height="26" fill="#ff4500"/>
<rect x="705" y="371" width="5" height="11" fill="#ff4500"/>
<rect x="715" y="356" width="1" height="46" fill="#ff4500"/>
<rect x="713" y="370" width="5" height="2" fill="#ff4500"/>
<rect x="723" y="356" width="1" height="41" fill="#32cd32"/>
<rect x="721" y="370" width="5" height="13" fill="#32cd32"/>
<rect x="731" y="320" width="1" height="90" fill="#ff4500"/>
<rect x="729" y="341" width="5" height="41" fill="#ff4500"/>
<rect x="739" y="324" width="1" height="30" fill="#ff4500"/>
<rect x="737" y="332" width="5" height="11" fill="#ff4500"/>
<rect x="747" y="323" width="1" height="12" fill="#ff4500"/>
<rect x="745" y="329" width="5" height="4" fill="#ff4500"/>
<rect x="755" y="311" width="1" height="35" fill="#32cd32"/>
<rect x="753" y="326" width="5" height="14" fill="#32cd32"/>
<rect x="763" y="318" width="1" height="30" fill="#32cd32"/>
<rect x="761" y="339" width="5" height="6" fill="#32cd32"/>
<rect x="771" y="322" width="1" height="49" fill="#ff4500"/>
<rect x="769" y="340" width="5" height="5" fill="#ff4500"/>
<rect x="779" y="291" width="1" height="53" fill="#ff4500"/>
<rect x="777" y="291" width="5" height="51" fill="#ff4500"/>
<rect x="787" y="284" width="1" height="40" fill="#32cd32"/>
<rect x="785" y="289" width="5" height="30" fill="#32cd32"/>
<rect x="795" y="304" width="1" height="16" fill="#ff4500"/>
<rect x="793" y="312" width="5" height="7" fill="#ff4500"/>
<rect x="803" y="311" width="1" height="15" fill="#32cd32"/>
<rect x="801" y="313" width="5" height="3" fill="#32cd32"/>
<rect x="811" y="311" width="1" height="35" fill="#32cd32"/>
<rect x="809" y="314" width="5" height="29" fill="#32cd32"/>
<rect x="819" y="331" width="1" height="31" fill="#ff4500"/>
<rect x="817" y="336" width="5" height="7" fill="#ff4500"/>
<rect x="827" y="309" width="1" height="29" fill="#ff4500"/>
<rect x="825" y="323" width="5" height="13" fill="#ff4500"/>
<rect x="835" y="314" width="1" height="19" fill="#ff4500"/>
<rect x="833" y="322" width="5" height="2" fill="#ff4500"/>
<rect x="843" y="317" width="1" height="9" fill="#ff4500"/>
<rect x="841" y="320" width="5" height="3" fill="#ff4500"/>
<rect x="851" y="317" width="1" height="19" fill="#32cd32"/>
<rect x="849" y="320" width="5" height="8" fill="#32cd32"/>
<rect x="859" y="308" width="1" height="34" fill="#32cd32"/>
<rect x="857" y="328" width="5" height="12" fill="#32cd32"/>
<rect x="867" y="314" width="1" height="33" fill="#ff4500"/>
<rect x="865" y="329" width="5" height="11" fill="#ff4500"/>
<rect x="875" y="297" width="1" height="74" fill="#32cd32"/>
<rect x="873" y="329" width="5" height="32" fill="#32cd32"/>
<rect x="883" y="351" width="1" height="31" fill="#32cd32"/>
<rect x="881" y="361" width="5" height="9" fill="#32cd32"/>
<rect x="891" y="359" width="1" height="13" fill="#ff4500"/>
<rect x="889" y="366" width="5" height="4" fill="#ff4500"/>
<rect x="899" y="363" width="1" height="24" fill="#ff4500"/>
<rect x="897" y="365" width="5" height="2" fill="#ff4500"/>
<rect x="907" y="335" width="1" height="32" fill="#ff4500"/>
<rect x="905" y="347" width="5" height="19" fill="#ff4500"/>
<rect x="915" y="336" width="1" height="21" fill="#32cd32"/>
<rect x="913" y="346" width="5" height="2" fill="#32cd32"/>
<rect x="923" y="336" width="1" height="37" fill="#32cd32"/>
<rect x="921" y="346" width="5" height="20" fill="#32cd32"/>
<rect x="931" y="338" width="1" height="38" fill="#ff4500"/>
<rect x="929" y="345" width="5" height="21" fill="#ff4500"/>
<rect x="939" y="335" width="1" height="13" fill="#ff4500"/>
<rect x="937" y="337" width="5" height="8" fill="#ff4500"/>
<rect x="947" y="326" width="1" height="19" fill="#ff4500"/>
<rect x="945" y="334" width="5" height="4" fill="#ff4500"/>
<rect x="955" y="306" width="1" height="36" fill="#ff4500"/>
<rect x="953" y="313" width="5" height="22" fill="#ff4500"/>
<rect x="963" y="299" width="1" height="31" fill="#32cd32"/>
<rect x="961" y="312" width="5" height="6" fill="#32cd32"/>
<rect x="971" y="292" width="1" height="31" fill="#ff4500"/>
<rect x="969" y="308" width="5" height="9" fill="#ff4500"/>
<rect x="979" y="303" width="1" height="20" fill="#32cd32"/>
<rect x="977" y="308" width="5" height="12" fill="#32cd32"/>
<rect x="987" y="313" width="1" height="11" fill="#ff4500"/>
<rect x="985" y="316" width="5" height="3" fill="#ff4500"/>
<rect x="995" y="307" width="1" height="18" fill="#32cd32"/>
<rect x="993" y="315" width="5" height="2" fill="#32cd32"/>
<rect x="1003" y="308" width="1" height="35" fill="#32cd32"/>
<rect x="1001" y="315" width="5" height="17" fill="#32cd32"/>
<rect x="1011" y="318" width="1" height="23" fill="#ff4500"/>
<rect x="1009" y="324" width="5" height="7" fill="#ff4500"/>
<rect x="1019" y="249" width="1" height="77" fill="#ff4500"/>
<rect x="1017" y="269" width="5" height="56" fill="#ff4500"/>
<rect x="1027" y="243" width="1" height="29" fill="#ff4500"/>
<rect x="1025" y="255" width="5" height="15" fill="#ff4500"/>
<rect x="1035" y="243" width="1" height="13" fill="#ff4500"/>
<rect x="1033" y="251" width="5" height="5" fill="#ff4500"/>
<rect x="1043" y="249" width="1" height="15" fill="#32cd32"/>
<rect x="1041" y="251" width="5" height="2" fill="#32cd32"/>
<rect x="1051" y="225" width="1" height="30" fill="#ff4500"/>
<rect x="1049" y="225" width="5" height="29" fill="#ff4500"/>
<rect x="1059" y="207" width="1" height="38" fill="#ff4500"/>
<rect x="1057" y="212" width="5" height="14" fill="#ff4500"/>
<rect x="1067" y="157" width="1" height="90" fill="#32cd32"/>
<rect x="1065" y="211" width="5" height="34" fill="#32cd32"/>
<rect x="1075" y="234" width="1" height="31" fill="#ff4500"/>
<rect x="1073" y="236" width="5" height="8" fill="#ff4500"/>
<rect x="1083" y="242" width="1" height="9" fill="#ff4500"/>
<rect x="1081" y="243" width="5" height="6" fill="#ff4500"/>
<rect x="1091" y="229" width="1" height="19" fill="#ff4500"/>
<rect x="1089" y="242" width="5" height="3" fill="#ff4500"/>
<rect x="1099" y="217" width="1" height="32" fill="#ff4500"/>
<rect x="1097" y="233" width="5" height="10" fill="#ff4500"/>
<rect x="1107" y="223" width="1" height="28" fill="#32cd32"/>
<rect x="1105" y="234" width="5" height="14" fill="#32cd32"/>
<rect x="1115" y="236" width="1" height="95" fill="#32cd32"/>
<rect x="1113" y="247" width="5" height="82" fill="#32cd32"/>
<rect x="1123" y="307" width="1" height="23" fill="#ff4500"/>
<rect x="1121" y="312" width="5" height="17" fill="#ff4500"/>
<rect x="1131" y="306" width="1" height="16" fill="#32cd32"/>
<rect x="1129" y="312" width="5" height="8" fill="#32cd32"/>
<rect x="1139" y="311" width="1" height="18" fill="#ff4500"/>
<rect x="1137" y="317" width="5" height="3" fill="#ff4500"/>
<rect x="1147" y="300" width="1" height="25" fill="#ff4500"/>
<rect x="1145" y="303" width="5" height="14" fill="#ff4500"/>
<rect x="1155" y="301" width="1" height="66" fill="#32cd32"/>
<rect x="1153" y="303" width="5" height="48" fill="#32cd32"/>
<rect x="1163" y="314" width="1" height="56" fill="#ff4500"/>
<rect x="1161" y="324" width="5" height="27" fill="#ff4500"/>
<rect x="1171" y="319" width="1" height="27" fill="#32cd32"/>
<rect x="1169" y="323" width="5" height="18" fill="#32cd32"/>
<rect x="1179" y="335" width="1" height="14" fill="#32cd32"/>
<rect x="1177" y="340" width="5" height="7" fill="#32cd32"/>
<rect x="1187" y="333" width="1" height="16" fill="#ff4500"/>
<rect x="1185" y="338" width="5" height="9" fill="#ff4500"/>
<rect x="1195" y="329" width="1" height="19" fill="#ff4500"/>
<rect x="1193" y="336" width="5" height="3" fill="#ff4500"/>
<rect x="1203" y="306" width="1" height="35" fill="#ff4500"/>
<rect x="1201" y="308" width="5" height="30" fill="#ff4500"/>
<rect x="1211" y="295" width="1" height="38" fill="#ff4500"/>
<rect x="1209" y="301" width="5" height="8" fill="#ff4500"/>
<rect x="1219" y="289" width="1" height="97" fill="#ff4500"/>
<rect x="1217" y="290" width="5" height="12" fill="#ff4500"/>
<rect x="1227" y="288" width="1" height="20" fill="#32cd32"/>
<rect x="1225" y="291" width="5" height="7" fill="#32cd32"/>
<rect x="1235" y="271" width="1" height="35" fill="#ff4500"/>
<rect x="1233" y="279" width="5" height="18" fill="#ff4500"/>
<rect x="1243" y="265" width="1" height="26" fill="#ff4500"/>
<rect x="1241" y="266" width="5" height="14" fill="#ff4500"/>
<rect x="1251" y="219" width="1" height="55" fill="#ff4500"/>
<rect x="1249" y="228" width="5" height="39" fill="#ff4500"/>
<rect x="1259" y="180" width="1" height="60" fill="#ff4500"/>
<rect x="1257" y="209" width="5" height="19" fill="#ff4500"/>
<rect x="1267" y="187" width="1" height="25" fill="#ff4500"/>
<rect x="1265" y="197" width="5" height="13" fill="#ff4500"/>
<rect x="1275" y="188" width="1" height="12" fill="#ff4500"/>
<rect x="1273" y="192" width="5" height="7" fill="#ff4500"/>
<rect x="1283" y="183" width="1" height="23" fill="#32cd32"/>
<rect x="1281" y="193" width="5" height="10" fill="#32cd32"/>
<rect x="1291" y="191" width="1" height="21" fill="#ff4500"/>
<rect x="1289" y="191" width="5" height="12" fill="#ff4500"/>
<rect x="1299" y="177" width="1" height="37" fill="#32cd32"/>
<rect x="1297" y="191" width="5" height="14" fill="#32cd32"/>
<rect x="1307" y="169" width="1" height="80" fill="#ff4500"/>
<rect x="1305" y="203" width="5" height="2" fill="#ff4500"/>
<rect x="1315" y="194" width="1" height="31" fill="#32cd32"/>
<rect x="1313" y="203" width="5" height="15" fill="#32cd32"/>
<polygon points="1326,41 1338,41 1332,47.5" fill="#c0c0c0" shape-rendering="auto"/>
<rect x="3" y="540" width="1" height="20" fill="#c0c0c0"/>
<rect x="11" y="545" width="1" height="15" fill="#c0c0c0"/>
<rect x="19" y="549" width="1" height="11" fill="#c0c0c0"/>
<rect x="27" y="552" width="1" height="8" fill="#c0c0c0"/>
<rect x="35" y="556" width="1" height="4" fill="#c0c0c0"/>
<rect x="43" y="558" width="1" height="2" fill="#c0c0c0"/>
<rect x="59" y="560" width="1" height="1" fill="#d8d8d8"/>
<rect x="67" y="559" width="1" height="4" fill="#c0c0c0"/>
<rect x="75" y="559" width="1" height="6" fill="#c0c0c0"/>
<rect x="83" y="559" width="1" height="7" fill="#c0c0c0"/>
<rect x="91" y="559" width="1" height="9" fill="#c0c0c0"/>
<rect x="99" y="559" width="1" height="11" fill="#c0c0c0"/>
<rect x="107" y="559" width="1" height="12" fill="#c0c0c0"/>
<rect x="115" y="559" width="1" height="13" fill="#c0c0c0"/>
<rect x="123" y="559" width="1" height="14" fill="#c0c0c0"/>
<rect x="131" y="559" width="1" height="16" fill="#c0c0c0"/>
<rect x="139" y="559" width="1" height="17" fill="#c0c0c0"/>
<rect x="147" y="559" width="1" height="18" fill="#c0c0c0"/>
<rect x="155" y="559" width="1" height="22" fill="#c0c0c0"/>
<rect x="163" y="559" width="1" height="25" fill="#c0c0c0"/>
<rect x="171" y="559" width="1" height="28" fill="#c0c0c0"/>
<rect x="179" y="559" width="1" height="30" fill="#c0c0c0"/>
<rect x="187" y="559" width="1" height="33" fill="#c0c0c0"/>
<rect x="195" y="559" width="1" height="34" fill="#c0c0c0"/>
<rect x="203" y="559" width="1" height="32" fill="#c0c0c0"/>
<rect x="211" y="559" width="1" height="28" fill="#c0c0c0"/>
<rect x="219" y="559" width="1" height="26" fill="#c0c0c0"/>
<rect x="227" y="559" width="1" height="25" fill="#c0c0c0"/>
<rect x="235" y="559" width="1" height="23" fill="#c0c0c0"/>
<rect x="243" y="559" width="1" height="20" fill="#c0c0c0"/>
<rect x="251" y="559" width="1" height="14" fill="#c0c0c0"/>
<rect x="259" y="559" width="1" height="10" fill="#c0c0c0"/>
<rect x="267" y="559" width="1" height="6" fill="#c0c0c0"/>
<rect x="275" y="559" width="1" height="3" fill="#c0c0c0"/>
<rect x="291" y="557" width="1" height="3" fill="#c0c0c0"/>
<rect x="299" y="554" width="1" height="6" fill="#c0c0c0"/>
<rect x="307" y="552" width="1" height="8" fill="#c0c0c0"/>
<rect x="315" y="550" width="1" height="10" fill="#c0c0c0"/>
<rect x="323" y="548" width="1" height="12" fill="#c0c0c0"/>
<rect x="331" y="548" width="1" height="12" fill="#c0c0c0"/>
<rect x="339" y="547" width="1" height="13" fill="#c0c0c0"/>
<rect x="347" y="547" width="1" height="13" fill="#c0c0c0"/>
<rect x="355" y="547" width="1" height="13" fill="#c0c0c0"/>
<rect x="363" y="547" width="1" height="13" fill="#c0c0c0"/>
<rect x="371" y="548" width="1" height="12" fill="#c0c0c0"/>
<rect x="379" y="549" width="1" height="11" fill="#c0c0c0"/>
<rect x="387" y="551" width="1" height="9" fill="#c0c0c0"/>
<rect x="395" y="554" width="1" height="6" fill="#c0c0c0"/>
<rect x="403" y="556" width="1" height="4" fill="#c0c0c0"/>
<rect x="411" y="558" width="1" height="2" fill="#c0c0c0"/>
<rect x="419" y="559" width="1" height="1" fill="#d8d8d8"/>
<rect x="427" y="559" width="1" height="1" fill="#d8d8d8"/>
<rect x="435" y="559" width="1" height="1" fill="#d8d8d8"/>
<rect x="443" y="558" width="1" height="2" fill="#c0c0c0"/>
<rect x="451" y="556" width="1" height="4" fill="#c0c0c0"/>
<rect x="459" y="556" width="1" height="4" fill="#c0c0c0"/>
<rect x="467" y="555" width="1" height="5" fill="#c0c0c0"/>
<rect x="475" y="554" width="1" height="6" fill="#c0c0c0"/>
<rect x="483" y="555" width="1" height="5" fill="#c0c0c0"/>
<rect x="491" y="554" width="1" height="6" fill="#c0c0c0"/>
<rect x="499" y="554" width="1" height="6" fill="#c0c0c0"/>
<rect x="507" y="553" width="1" height="7" fill="#c0c0c0"/>
<rect x="515" y="553" width="1" height="7" fill="#c0c0c0"/>
<rect x="523" y="553" width="1" height="7" fill="#c0c0c0"/>
<rect x="531" y="553" width="1" height="7" fill="#c0c0c0"/>
<rect x="539" y="555" width="1" height="5" fill="#c0c0c0"/>
<rect x="547" y="558" width="1" height="2" fill="#c0c0c0"/>
<rect x="563" y="560" width="1" height="1" fill="#d8d8d8"/>
<rect x="571" y="560" width="1" height="1" fill="#d8d8d8"/>
<rect x="579" y="559" width="1" height="6" fill="#c0c0c0"/>
<rect x="587" y="559" width="1" height="10" fill="#c0c0c0"/>
<rect x="595" y="559" width="1" height="12" fill="#c0c0c0"/>
<rect x="603" y="559" width="1" height="13" fill="#c0c0c0"/>
<rect x="611" y="559" width="1" height="14" fill="#c0c0c0"/>
<rect x="619" y="559" width="1" height="13" fill="#c0c0c0"/>
<rect x="627" y="559" width="1" height="12" fill="#c0c0c0"/>
<rect x="635" y="559" width="1" height="10" fill="#c0c0c0"/>
<rect x="643" y="559" width="1" height="9" fill="#c0c0c0"/>
<rect x="651" y="559" width="1" height="10" fill="#c0c0c0"/>
<rect x="659" y="559" width="1" height="8" fill="#c0c0c0"/>
<rect x="667" y="559" width="1" height="8" fill="#c0c0c0"/>
<rect x="675" y="559" width="1" height="7" fill="#c0c0c0"/>
<rect x="683" y="559" width="1" height="8" fill="#c0c0c0"/>
<rect x="691" y="559" width="1" height="10" fill="#c0c0c0"/>
<rect x="699" y="559" width="1" height="10" fill="#c0c0c0"/>
<rect x="707" y="559" width="1" height="12" fill="#c0c0c0"/>
<rect x="715" y="559" width="1" height="12" fill="#c0c0c0"/>
<rect x="723" y="559" width="1" height="11" fill="#c0c0c0"/>
<rect x="731" y="559" width="1" height="10" fill="#c0c0c0"/>
<rect x="739" y="559" width="1" height="10" fill="#c0c0c0"/>
<rect x="747" y="559" width="1" height="8" fill="#c0c0c0"/>
<rect x="755" y="559" width="1" height="7" fill="#c0c0c0"/>
<rect x="763" y="559" width="1" height="7" fill="#c0c0c0"/>
<rect x="771" y="559" width="1" height="6" fill="#c0c0c0"/>
<rect x="779" y="559" width="1" height="4" fill="#c0c0c0"/>
<rect x="787" y="559" width="1" height="3" fill="#c0c0c0"/>
<rect x="795" y="560" width="1" height="1" fill="#d8d8d8"/>
<rect x="803" y="560" width="1" height="1" fill="#d8d8d8"/>
<rect x="811" y="560" width="1" height="1" fill="#d8d8d8"/>
<rect x="819" y="560" width="1" height="1" fill="#d8d8d8"/>
<rect x="827" y="560" width="1" height="1" fill="#d8d8d8"/>
<rect x="835" y="560" width="1" height="1" fill="#d8d8d8"/>
<rect x="843" y="560" width="1" height="1" fill="#d8d8d8"/>
<rect x="891" y="560" width="1" height="1" fill="#d8d8d8"/>
<rect x="899" y="559" width="1" height="4" fill="#c0c0c0"/>
<rect x="907" y="559" width="1" height="4" fill="#c0c0c0"/>
<rect x="915" y="559" width="1" height="4" fill="#c0c0c0"/>
<rect x="923" y="559" width="1" height="4" fill="#c0c0c0"/>
<rect x="931" y="559" width="1" height="5" fill="#c0c0c0"/>
<rect x="939" y="559" width="1" height="4" fill="#c0c0c0"/>
<rect x="947" y="559" width="1" height="3" fill="#c0c0c0"/>
<rect x="955" y="560" width="1" height="1" fill="#d8d8d8"/>
<rect x="963" y="560" width="1" height="1" fill="#d8d8d8"/>
<rect x="987" y="558" width="1" height="2" fill="#c0c0c0"/>
<rect x="995" y="558" width="1" height="2" fill="#c0c0c0"/>
<rect x="1003" y="558" width="1" height="2" fill="#c0c0c0"/>
<rect x="1011" y="558" width="1" height="2" fill="#c0c0c0"/>
<rect x="1019" y="557" width="1" height="3" fill="#c0c0c0"/>
<rect x="1027" y="555" width="1" height="5" fill="#c0c0c0"/>
<rect x="1035" y="553" width="1" height="7" fill="#c0c0c0"/>
<rect x="1043" y="552" width="1" height="8" fill="#c0c0c0"/>
<rect x="1051" y="550" width="1" height="10" fill="#c0c0c0"/>
<rect x="1059" y="549" width="1" height="11" fill="#c0c0c0"/>
<rect x="1067" y="548" width="1" height="12" fill="#c0c0c0"/>
<rect x="1075" y="548" width="1" height="12" fill="#c0c0c0"/>
<rect x="1083" y="548" width="1" height="12" fill="#c0c0c0"/>
<rect x="1091" y="548" width="1" height="12" fill="#c0c0c0"/>
<rect x="1099" y="548" width="1" height="12" fill="#c0c0c0"/>
<rect x="1107" y="549" width="1" height="11" fill="#c0c0c0"/>
<rect x="1115" y="551" width="1" height="9" fill="#c0c0c0"/>
<rect x="1123" y="554" width="1" height="6" fill="#c0c0c0"/>
<rect x="1131" y="556" width="1" height="4" fill="#c0c0c0"/>
<rect x="1139" y="558" width="1" height="2" fill="#c0c0c0"/>
<rect x="1163" y="559" width="1" height="4" fill="#c0c0c0"/>
<rect x="1171" y="559" width="1" height="4" fill="#c0c0c0"/>
<rect x="1179" y="559" width="1" height="6" fill="#c0c0c0"/>
<rect x="1187" y="559" width="1" height="7" fill="#c0c0c0"/>
<rect x="1195" y="559" width="1" height="7" fill="#c0c0c0"/>
<rect x="1203" y="559" width="1" height="6" fill="#c0c0c0"/>
<rect x="1211" y="559" width="1" height="5" fill="#c0c0c0"/>
<rect x="1219" y="559" width="1" height="5" fill="#c0c0c0"/>
<rect x="1227" y="559" width="1" height="4" fill="#c0c0c0"/>
<rect x="1235" y="559" width="1" height="3" fill="#c0c0c0"/>
<rect x="1251" y="558" width="1" height="2" fill="#c0c0c0"/>
<rect x="1259" y="555" width="1" height="5" fill="#c0c0c0"/>
<rect x="1267" y="552" width="1" height="8" fill="#c0c0c0"/>
<rect x="1275" y="550" width="1" height="10" fill="#c0c0c0"/>
<rect x="1283" y="549" width="1" height="11" fill="#c0c0c0"/>
<rect x="1291" y="548" width="1" height="12" fill="#c0c0c0"/>
<rect x="1299" y="547" width="1" height="13" fill="#c0c0c0"/>
<rect x="1307" y="547" width="1" height="13" fill="#c0c0c0"/>
<rect x="1315" y="548" width="1" height="12" fill="#c0c0c0"/>
<polyline points="3.5,541.5 25.5,543.0 50.5,548.0 75.5,554.2 85.5,560.5 100.5,563.0 125.5,568.0 150.5,572.5 175.5,578.5 200.5,585.0 220.5,588.5 238.0,586.8 253.0,585.3 260.5,582.3 268.1,579.8 275.5,576.8 281.5,574.8 287.5,572.3 293.5,569.3 299.5,567.0 305.5,564.8 311.5,562.4 317.5,559.8 323.5,557.9 329.5,556.0 335.5,554.2 341.5,552.3 347.5,550.8 358.2,549.7 364.2,548.5 370.2,547.8 398.8,547.8 401.8,548.8 413.8,549.7 418.3,551.2 424.3,552.3 430.3,553.8 436.3,554.8 446.8,555.7 452.8,556.8 460.5,556.8 500.5,557.0 520.5,555.7 540.5,553.5 560.5,553.5 565.5,554.9 580.5,556.8 585.5,558.3 590.5,560.2 595.5,560.8 600.5,563.1 610.5,565.3 615.5,566.5 625.5,567.2 635.5,568.7 645.5,570.0 650.5,570.5 668.5,569.9 674.5,568.5 690.5,568.0 710.5,568.0 714.5,569.0 745.5,569.1 752.5,569.8 760.5,569.8 766.5,568.7 780.5,568.3 790.5,566.8 800.5,565.3 810.5,563.8 816.5,563.0 830.5,562.0 838.5,560.8 863.5,560.8 900.5,560.8 905.5,561.8 925.5,561.8 930.5,563.0 965.5,563.0 968.5,562.0 980.5,561.5 985.5,560.5 1003.5,559.7 1008.5,558.8 1020.5,558.2 1030.5,557.3 1035.5,556.3 1050.5,554.8 1055.5,553.7 1070.5,552.5 1078.5,551.3 1090.5,550.3 1095.5,548.8 1127.5,548.8 1130.5,549.8 1140.5,550.7 1145.5,551.8 1150.5,552.8 1158.5,554.0 1163.5,555.2 1170.5,556.3 1175.5,557.3 1182.5,558.8 1187.5,560.0 1192.5,561.2 1197.5,562.0 1205.5,563.0 1210.5,563.8 1245.5,563.8 1250.5,562.7 1258.5,562.0 1265.5,560.8 1275.5,559.7 1280.5,557.8 1287.5,556.3 1292.5,555.2 1297.5,554.3 1303.5,552.8 1308.5,551.8 1315.5,550.7" fill="none" stroke="#ff0000" stroke-width="1" stroke-dasharray="3 2"/>
<line x1="3" x2="1665" y1="637.5" y2="637.5" stroke="#c0c0c0" stroke-dasharray="3 3"/>
<line x1="3" x2="1665" y1="688.5" y2="688.5" stroke="#c0c0c0" stroke-dasharray="3 3"/>
<polyline points="3.5,645.5 11.5,673.5 20.5,678.0 35.5,670.5 43.0,673.5 51.5,675.0 59.5,670.5 68.0,675.0 76.5,670.5 83.5,671.5 91.5,679.5 100.5,683.5 108.0,685.0 115.5,674.5 131.5,682.5 140.0,683.5 148.0,688.5 156.0,698.5 164.5,690.5 171.5,691.0 180.0,696.0 187.5,697.5 196.0,688.5 204.5,668.5 211.5,670.5 220.5,670.5 227.5,674.0 235.5,670.0 243.5,665.5 251.5,653.5 260.5,653.5 266.5,652.5 275.5,655.0 283.5,655.0 291.5,649.5 299.5,644.5 308.0,651.0 315.5,648.5 323.5,646.5 331.5,649.5 339.5,649.5 348.0,656.5 355.5,653.0 363.0,651.5 371.5,654.5 379.5,660.0 387.5,664.5 395.5,666.0 403.5,673.0 410.5,674.0 419.5,675.0 426.5,666.5 430.5,661.5 436.0,653.5 444.5,659.5 451.5,655.0 459.5,651.5 468.0,656.5 475.5,653.5 483.5,663.0 492.5,655.5 499.5,656.5 508.5,651.5 516.5,656.0 526.5,656.0 531.5,656.5 539.5,673.5 546.0,675.0 555.5,675.0 564.5,673.0 571.5,661.5 579.5,680.5 587.5,682.5 595.5,679.5 603.0,677.5 611.5,676.0 619.5,671.5 628.0,664.5 635.5,666.5 643.0,668.0 651.0,669.0 660.5,663.5 668.0,666.0 675.5,665.0 683.5,680.0 693.0,680.0 700.5,678.5 706.5,676.0 716.5,676.0 723.5,678.0 731.5,666.0 739.5,663.5 746.5,662.5 754.5,666.0 763.0,667.5 771.5,666.0 779.5,653.0 788.0,661.0 795.5,658.5 803.0,659.5 811.5,668.0 819.5,666.0 827.5,662.0 835.5,662.0 843.0,660.5 851.5,663.5 859.5,668.0 867.5,663.5 875.5,673.5 884.5,676.0 891.5,675.0 899.5,674.0 908.0,666.5 915.5,667.0 923.5,673.0 931.5,665.0 939.5,662.0 947.5,661.0 956.0,653.5 963.5,655.0 971.5,653.0 980.5,656.5 988.0,655.5 995.5,655.5 1004.5,663.0 1011.5,661.0 1020.5,643.0 1028.0,640.0 1035.5,638.5 1044.5,638.5 1051.5,633.5 1059.5,630.5 1068.0,646.0 1075.5,645.0 1084.5,648.0 1091.5,646.5 1099.5,645.0 1107.5,650.0 1115.5,676.0 1124.5,670.5 1133.0,673.0 1139.5,672.0 1147.5,668.0 1155.5,679.0 1163.5,670.5 1171.5,674.5 1179.5,676.0 1188.0,673.0 1195.5,673.0 1204.5,663.5 1211.5,661.5 1219.5,658.5 1227.5,661.0 1235.5,656.0 1243.5,651.5 1252.5,643.0 1260.5,639.5 1274.5,636.5 1283.5,642.0 1290.5,639.5 1299.5,644.5 1307.5,644.5 1315.5,648.8" fill="none" stroke="#1e90ff" stroke-width="1" />
<rect x="3" y="727" width="1" height="3" fill="#000"/>
<rect x="99" y="727" width="1" height="3" fill="#000"/>
<rect x="195" y="727" width="1" height="3" fill="#000"/>
<rect x="291" y="727" width="1" height="3" fill="#000"/>
<rect x="387" y="727" width="1" height="3" fill="#000"/>
<rect x="483" y="727" width="1" height="3" fill="#000"/>
<rect x="579" y="727" width="1" height="3" fill="#000"/>
<rect x="675" y="727" width="1" height="3" fill="#000"/>
<rect x="771" y="727" width="1" height="3" fill="#000"/>
<rect x="867" y="727" width="1" height="3" fill="#000"/>
<rect x="963" y="727" width="1" height="3" fill="#000"/>
<rect x="1059" y="727" width="1" height="3" fill="#000"/>
<rect x="1155" y="727" width="1" height="3" fill="#000"/>
<rect x="1251" y="727" width="1" height="3" fill="#000"/>
<rect x="1666" y="73" width="2" height="1" fill="#000"/>
<rect x="1666" y="122" width="2" height="1" fill="#000"/>
<rect x="1666" y="171" width="2" height="1" fill="#000"/>
<rect x="1666" y="269" width="2" height="1" fill="#000"/>
<rect x="1666" y="318" width="2" height="1" fill="#000"/>
<rect x="1666" y="367" width="2" height="1" fill="#000"/>
<rect x="1666" y="416" width="2" height="1" fill="#000"/>
<rect x="1666" y="465" width="2" height="1" fill="#000"/>
<rect x="1666" y="514" width="2" height="1" fill="#000"/>
<rect x="1666" y="537" width="1" height="1" fill="#000"/>
<rect x="1666" y="559" width="1" height="1" fill="#000"/>
<rect x="1666" y="595" width="1" height="1" fill="#000"/>
<rect x="1666" y="600" width="1" height="1" fill="#000"/>
<rect x="1666" y="637" width="1" height="1" fill="#000"/>
<rect x="1666" y="688" width="1" height="1" fill="#000"/>
<rect x="1666" y="726" width="1" height="1" fill="#000"/>
<rect x="1666" y="217" width="1" height="1" fill="#000"/>
<rect x="1666" y="267" width="1" height="1" fill="#000"/>
</svg>
<div class="t " style="left:2px;top:730px;letter-spacing:0px">25 Sep 2019</div>
<div class="t " style="left:98px;top:730px;letter-spacing:0.1px">27 Sep 08:00</div>
<div class="t " style="left:194px;top:730px;letter-spacing:0.21px">1 Oct 08:00</div>
<div class="t " style="left:290px;top:730px;letter-spacing:0.21px">3 Oct 08:00</div>
<div class="t " style="left:386px;top:730px;letter-spacing:0.21px">7 Oct 08:00</div>
<div class="t " style="left:482px;top:730px;letter-spacing:0.21px">9 Oct 08:00</div>
<div class="t " style="left:578px;top:730px;letter-spacing:0.3px">11 Oct 08:00</div>
<div class="t " style="left:674px;top:730px;letter-spacing:0.3px">15 Oct 08:00</div>
<div class="t " style="left:770px;top:730px;letter-spacing:0.3px">17 Oct 08:00</div>
<div class="t " style="left:866px;top:730px;letter-spacing:0.3px">21 Oct 08:00</div>
<div class="t " style="left:962px;top:730px;letter-spacing:0.3px">23 Oct 08:00</div>
<div class="t " style="left:1058px;top:730px;letter-spacing:0.3px">25 Oct 08:00</div>
<div class="t " style="left:1154px;top:730px;letter-spacing:0.3px">29 Oct 08:00</div>
<div class="t " style="left:1250px;top:730px;letter-spacing:0.3px">31 Oct 08:00</div>
<div class="t " style="left:1672.5px;top:66px;font-size:12.6px">1531.35</div>
<div class="t " style="left:1672.5px;top:115px;font-size:12.6px">1523.55</div>
<div class="t " style="left:1672.5px;top:164px;font-size:12.6px">1515.60</div>
<div class="t " style="left:1672.5px;top:262px;font-size:12.6px">1499.70</div>
<div class="t " style="left:1672.5px;top:311px;font-size:12.6px">1491.75</div>
<div class="t " style="left:1672.5px;top:360px;font-size:12.6px">1483.80</div>
<div class="t " style="left:1672.5px;top:409px;font-size:12.6px">1476.00</div>
<div class="t " style="left:1672.5px;top:458px;font-size:12.6px">1468.05</div>
<div class="t " style="left:1672.5px;top:507px;font-size:12.6px">1460.10</div>
<div class="t " style="left:1669px;top:537px;font-size:12.6px">8.049</div>
<div class="t " style="left:1669px;top:552px;font-size:12.6px">0.00</div>
<div class="t " style="left:1669.5px;top:581px;font-size:12.6px">-12.909</div>
<div class="t " style="left:1669px;top:599.5px;font-size:12.6px">100</div>
<div class="t " style="left:1669px;top:630px;font-size:12.6px">70</div>
<div class="t " style="left:1669px;top:681px;font-size:12.6px">30</div>
<div class="t " style="left:1669px;top:711px;font-size:12.6px">0</div>
<div class="t " style="left:1672.5px;top:212.7px;font-size:12.6px">1507.65</div>
<div class="tag" style="top:76px;background:#ff0000;color:#fff">1530.00</div>
<div class="tag" style="top:210px;background:#000;color:#fff">1508.17</div>
<div class="tag" style="top:261px;background:#00ff00;color:#fff">1500.00</div>
<div class="tag" style="top:416px;background:#0000ff;color:#fff">1475.00</div>
<div class="t " style="left:7px;top:539px;"><span style="display:inline-block;transform:scaleX(0.85);transform-origin:0 50%;margin-right:-4.3px">MACD</span><span style="letter-spacing:0.32px">(12,26,9) 4.432 3.418</span></div>
<div class="t " style="left:6.5px;top:602px;letter-spacing:0.1px">RSI(14) 60.3206</div>
<div class="t " style="left:21px;top:43px;"><span style="letter-spacing:-0.65px">XAUUSD-,H4</span><span style="letter-spacing:0.23px;margin-left:1.2px">&nbsp; 1510.41 1511.87 1506.97 1508.17</span></div>
<!-- annotation -->
<div id="note" class="abs" style="left:1272px;top:316.6px;-webkit-text-stroke:0.4px #ff2412;font-size:50.7px;line-height:72px;color:#ff2412;white-space:nowrap;font-family:'Liberation Sans','Noto Sans CJK SC',sans-serif"><span style="display:inline-block;transform:scaleY(1.057);transform-origin:0 0">多空转折点</span><span id="noted" style="font-size:52.4px;margin-left:1px;position:relative;left:-2.3px;top:-2.6px">1500</span></div>
<!-- one click trading -->
<div class="abs" style="left:6px;top:63px;width:68px;height:28px;background:linear-gradient(#f85454,#e23636);box-sizing:border-box;border-top:1px solid #d02020"></div>
<div class="abs" style="left:221px;top:63px;width:68px;height:28px;background:linear-gradient(#f85454,#e23636);box-sizing:border-box;border-top:1px solid #d02020"></div>
<div class="abs" style="left:6px;top:90px;width:141px;height:49px;background:linear-gradient(#e03232,#c81818 55%,#b00606);box-sizing:border-box;border-bottom:1px solid #9c0000"></div>
<div class="abs" style="left:149px;top:90px;width:140px;height:49px;background:linear-gradient(#e03232,#c81818 55%,#b00606);box-sizing:border-box;border-bottom:1px solid #9c0000"></div>
<div class="abs" style="left:147px;top:90px;width:2px;height:49px;background:#fff"></div>
<div class="abs" style="left:10px;top:89px;width:60px;height:1px;background:#a81010"></div>
<div class="abs" style="left:225px;top:89px;width:60px;height:1px;background:#a81010"></div>
<div class="abs" style="left:74px;top:63px;width:147px;height:27px;background:#fff"></div>
<div class="abs" style="left:76px;top:63px;width:143px;height:25px;background:#fff;box-sizing:border-box;border:1px solid #abadb3"></div>
<div class="abs" style="left:77px;top:64px;width:23px;height:23px;background:linear-gradient(#f2f2f2,#ebebeb 45%,#dddddd 50%,#cfcfcf);box-sizing:border-box;border:1px solid #c8c8c8"></div>
<div class="abs" style="left:195px;top:64px;width:23px;height:23px;background:linear-gradient(#f2f2f2,#ebebeb 45%,#dddddd 50%,#cfcfcf);box-sizing:border-box;border:1px solid #c8c8c8"></div>
<svg width="300" height="140" viewBox="0 0 300 140"><polygon points="85,74 92.5,74 88.75,78.2" fill="#4a62c0"/><polygon points="202.5,77.8 210,77.8 206.25,73.6" fill="#4a62c0"/><polygon points="6,54 15,54 10.5,48" fill="#000"/></svg>
<div class="big" style="left:23.2px;top:66.5px;font-size:13.8px;line-height:20px;letter-spacing:-0.2px">SELL</div>
<div class="big" style="left:239.8px;top:66.5px;font-size:13.8px;line-height:20px;letter-spacing:0.2px">BUY</div>
<div class="abs" style="left:100px;top:64.5px;width:91px;height:21px;font-size:16px;line-height:21px;text-align:right;color:#000">1.00</div>
<div class="big" style="left:36px;top:112.5px;font-size:15.7px;line-height:20px;font-weight:bold">1508</div>
<div class="big" style="left:178.5px;top:112.5px;font-size:15.7px;line-height:20px;font-weight:bold">1508</div>
<div class="big" style="left:76.5px;top:91.5px;font-size:42px;line-height:46px;letter-spacing:-2px">16</div>
<div class="big" style="left:219.5px;top:91.5px;font-size:42px;line-height:46px;letter-spacing:-2px">56</div>
</body></html>
